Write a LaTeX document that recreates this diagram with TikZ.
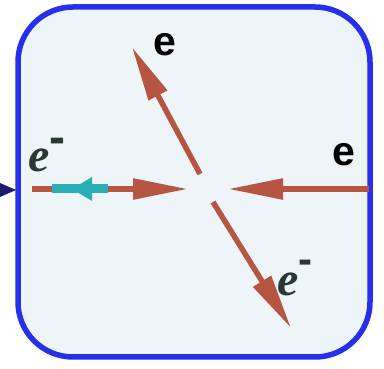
\documentclass[tikz,border=0pt]{standalone}
\usepackage{fontspec}
\setmainfont{Liberation Serif}
\newfontfamily\labsans{Liberation Sans}
\usetikzlibrary{arrows.meta}
\definecolor{boxblue}{RGB}{38,48,235}
\definecolor{bgfill}{RGB}{238,245,248}
\definecolor{navyblue}{RGB}{28,28,110}
\definecolor{brownline}{RGB}{182,86,66}
\definecolor{tealarrow}{RGB}{40,176,182}
\definecolor{elecgray}{RGB}{42,56,52}
\begin{document}
\begin{tikzpicture}[x=1pt,y=-1pt,
  particle/.style={draw=brownline, line width=5.5pt, -{Triangle[length=55pt,width=20pt]}},
  sanslab/.style={font=\labsans\bfseries\fontsize{41}{41}\selectfont, text=black, inner sep=0pt},
  seriflab/.style={font=\bfseries\itshape\fontsize{48}{48}\selectfont, text=elecgray, inner sep=0pt},
  minuslab/.style={font=\labsans\bfseries\fontsize{48}{48}\selectfont, text=elecgray, inner sep=0pt}]
\useasboundingbox (0,0) rectangle (384,369);
% incoming arrow tip at left
\fill[navyblue] (0,183) -- (16,190) -- (0,197) -- cycle;
% box
\draw[boxblue, fill=bgfill, line width=5.5pt, rounded corners=55pt] (18,7) rectangle (370,357);
% coordinates
\coordinate (lstart) at (32,189);
\coordinate (ltip) at (188,189);
\coordinate (rstart) at (369,189);
\coordinate (rtip) at (228,189);
\coordinate (ustart) at (200,174);
\coordinate (utip) at (132,47);
\coordinate (dstart) at (213,202);
\coordinate (dtip) at (291,328);
\coordinate (tealR) at (108,189);
\coordinate (tealL) at (52,189);
\coordinate (tealTip) at (72,189);
\coordinate (tealB1) at (92,177);
\coordinate (tealB2) at (92,201);
% arrows
\draw[particle] (lstart) -- (ltip);
\draw[particle] (rstart) -- (rtip);
\draw[particle] (ustart) -- (utip);
\draw[particle] (dstart) -- (dtip);
\draw[tealarrow, line width=9pt] (tealR) -- (tealL);
\fill[tealarrow] (tealTip) -- (tealB1) -- (tealB2) -- cycle;
% labels
\node[seriflab] (eleft) at (39,160) {e};
\node[minuslab] (mleft) at (57,146) {-};
\node[sanslab] (etop) at (165,45) {e};
\node[sanslab] (eright) at (344,155) {e};
\node[seriflab] (elow) at (288,284) {e};
\node[minuslab, font=\labsans\bfseries\fontsize{42}{42}\selectfont] (mlow) at (305,267) {-};
\end{tikzpicture}
\end{document}
